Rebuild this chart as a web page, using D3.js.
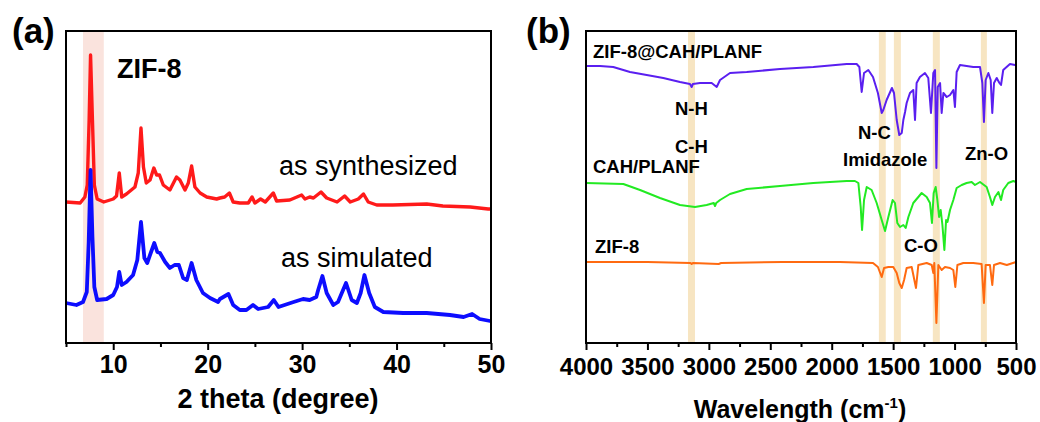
<!DOCTYPE html>
<html>
<head>
<meta charset="utf-8">
<script src="https://cdn.jsdelivr.net/npm/d3@7/dist/d3.min.js"></script>
<style>
  body { margin: 0; background: #fff; }
  svg text { font-family: "Liberation Sans", Arial, sans-serif; }
</style>
</head>
<body>
<script>
// ---- panel (a): XRD, [2theta, intensity a.u.] ----
var xrdSynth = [[5.0,141],[6.5,140],[7.0,146],[7.25,158],[7.45,223],[7.6,288],[7.8,223],[8.0,158],[8.3,144],[9.0,141],[10.0,144],[10.35,147],[10.64,170],[10.9,146],[11.4,149],[12.3,156],[12.65,170],[12.94,215],[13.2,176],[13.5,160],[13.9,163],[14.3,175],[14.6,168],[14.9,168],[15.3,158],[16.0,153],[16.7,166],[17.06,163],[17.6,153],[17.95,160],[18.3,177],[18.65,156],[19.2,150],[19.9,146],[20.95,144],[21.3,145],[21.8,146],[22.3,150],[22.7,141],[23.4,140],[24.3,140],[24.7,146],[25.0,140],[25.6,144],[26.1,141],[26.95,150],[27.3,142],[28.7,143],[29.95,148],[30.3,144],[30.8,146],[31.2,145],[32.0,151],[32.6,145],[33.7,141],[34.5,147],[35.1,141],[35.95,144],[36.5,149],[37.0,141],[37.9,138],[39.6,138],[43.2,139],[44.9,137],[47.8,136],[49.7,134],[50,134]];
var xrdSim = [[5.0,40],[6.1,38],[6.8,41],[7.2,51],[7.4,100],[7.6,173],[7.8,106],[8.0,56],[8.3,43],[9.3,44],[10.0,48],[10.4,56],[10.64,71],[10.9,58],[11.4,61],[12.1,68],[12.55,83],[12.94,121],[13.3,85],[13.6,80],[13.97,90],[14.35,100],[14.67,91],[14.95,90],[15.5,81],[16.0,75],[16.5,78],[16.95,78],[17.4,65],[17.8,63],[18.3,80],[18.8,63],[19.5,50],[20.25,45],[21.1,41],[21.3,44],[22.2,49],[22.7,38],[23.4,33],[24.1,33],[24.8,38],[25.35,34],[26.4,36],[27.0,43],[27.5,36],[29.1,41],[30.1,44],[30.8,43],[31.5,46],[31.7,53],[32.15,67],[32.6,50],[33.3,38],[33.8,41],[34.65,60],[35.25,43],[35.8,40],[36.2,50],[36.6,68],[37.1,50],[37.7,36],[38.6,31],[40.7,30],[43.2,30],[45.65,28],[47.1,26],[48.0,29],[48.8,24],[49.9,22],[50,22]];
var xrdBand = [6.8, 9.0];
var xrdTicks = [10, 20, 30, 40, 50];
var xrdMinor = [5, 15, 25, 35, 45];

// ---- panel (b): FTIR, [wavenumber, transmittance a.u.] ----
var irComposite = [[4000,277],[3886,277],[3778,276],[3642,271],[3506,268],[3371,265],[3235,261],[3154,259],[3140,256],[3130,259],[3072,260],[2977,260],[2936,256],[2909,263],[2828,270],[2692,271],[2421,274],[2150,276],[1878,279],[1797,279],[1775,276],[1756,251],[1737,270],[1702,273],[1664,266],[1624,250],[1593,230],[1580,233],[1553,243],[1510,255],[1493,250],[1471,223],[1450,208],[1430,210],[1417,223],[1403,231],[1390,240],[1363,250],[1336,253],[1322,223],[1309,260],[1282,266],[1241,270],[1214,265],[1192,230],[1173,270],[1159,273],[1148,175],[1137,256],[1118,260],[1105,230],[1091,250],[1064,246],[1037,248],[1010,253],[997,236],[983,271],[956,278],[902,277],[848,276],[793,276],[774,260],[761,221],[747,263],[725,270],[706,263],[693,230],[679,260],[657,265],[635,260],[622,258],[604,273],[549,279],[508,278],[500,278]];
var irFiber = [[4000,160],[3696,159],[3560,153],[3398,145],[3235,138],[3113,136],[3018,138],[2960,140],[2950,137],[2940,140],[2909,143],[2828,149],[2692,154],[2421,157],[2150,160],[1878,162],[1811,162],[1783,160],[1764,136],[1753,113],[1737,143],[1715,156],[1675,153],[1634,140],[1593,123],[1566,112],[1539,126],[1504,143],[1485,140],[1466,120],[1444,116],[1417,118],[1398,115],[1376,126],[1336,140],[1295,146],[1268,150],[1227,146],[1200,140],[1184,120],[1170,150],[1154,156],[1140,143],[1126,126],[1113,133],[1099,118],[1083,93],[1069,123],[1058,121],[1037,133],[1010,143],[983,155],[942,158],[902,160],[861,161],[834,158],[793,161],[739,156],[712,146],[693,138],[671,146],[643,151],[622,143],[604,153],[563,160],[522,162],[500,161]];
var irZif = [[4000,81],[3500,81],[3150,80],[3140,79],[3130,80],[2920,79],[2900,80],[2400,81],[1933,81],[1664,80],[1624,76],[1593,66],[1574,75],[1539,76],[1499,76],[1471,70],[1450,60],[1430,55],[1411,63],[1390,75],[1349,76],[1314,55],[1295,78],[1227,80],[1186,78],[1173,70],[1165,80],[1148,20],[1132,78],[1105,73],[1078,76],[1037,75],[1010,73],[994,56],[977,78],[929,80],[848,80],[780,79],[761,40],[747,78],[712,78],[693,58],[679,78],[630,80],[575,78],[500,81]];
var irBands = [[3170,3113],[1616,1560],[1494,1437],[1177,1120],[786,737]];
var irTicks = [4000, 3500, 3000, 2500, 2000, 1500, 1000, 500];
var irMinor = [3750, 3250, 2750, 2250, 1750, 1250, 750];

var width = 1040, height = 422;
var yTop = 31, yBottom = 343;

var svg = d3.select("body").append("svg")
    .attr("width", width)
    .attr("height", height);

var yScale = d3.scaleLinear().domain([0, 312]).range([yBottom, yTop]);

function drawAxes(g, x, major, minor, fs, pad) {
    var ax = g.append("g").attr("transform", "translate(0," + yBottom + ")")
        .call(d3.axisBottom(x).tickValues(major).tickSize(7).tickPadding(pad).tickFormat(d3.format("d")));
    ax.select(".domain").remove();
    ax.selectAll("line").attr("stroke", "#000").attr("stroke-width", 2);
    ax.selectAll("text").attr("font-size", fs).attr("font-weight", "bold")
        .attr("fill", "#000").attr("font-family", "Liberation Sans, Arial, sans-serif");
    var mi = g.append("g").attr("transform", "translate(0," + yBottom + ")")
        .call(d3.axisBottom(x).tickValues(minor).tickSize(4).tickFormat(""));
    mi.select(".domain").remove();
    mi.selectAll("line").attr("stroke", "#000").attr("stroke-width", 2);
}

// ---------- (a) ----------
var xA = d3.scaleLinear().domain([5, 50]).range([66, 491]);
var gA = svg.append("g");

gA.append("rect")
    .attr("x", xA(xrdBand[0])).attr("y", yTop)
    .attr("width", xA(xrdBand[1]) - xA(xrdBand[0])).attr("height", yBottom - yTop)
    .attr("fill", "#fae3dd");

var lineA = d3.line().x(function(d) { return xA(d[0]); }).y(function(d) { return yScale(d[1]); });

gA.append("path").datum(xrdSynth).attr("d", lineA)
    .attr("fill", "none").attr("stroke", "#ff1a1a").attr("stroke-width", 3.4).attr("stroke-linejoin", "round");
gA.append("path").datum(xrdSim).attr("d", lineA)
    .attr("fill", "none").attr("stroke", "#0000ff").attr("stroke-width", 3.8).attr("stroke-linejoin", "round")
    .attr("opacity", 0.95);

gA.append("rect").attr("x", 66).attr("y", yTop).attr("width", 491 - 66).attr("height", yBottom - yTop)
    .attr("fill", "none").attr("stroke", "#000").attr("stroke-width", 2);

drawAxes(gA, xA, xrdTicks, xrdMinor, 25, 5);

gA.append("text").attr("x", 278).attr("y", 408).attr("text-anchor", "middle")
    .attr("font-size", 27).attr("font-weight", "bold").text("2 theta (degree)");
gA.append("text").attr("x", 12).attr("y", 43).attr("font-size", 35).attr("font-weight", "bold").text("(a)");
gA.append("text").attr("x", 117).attr("y", 78).attr("font-size", 27).attr("font-weight", "bold").text("ZIF-8");
gA.append("text").attr("x", 279).attr("y", 175).attr("font-size", 27).text("as synthesized");
gA.append("text").attr("x", 281).attr("y", 267).attr("font-size", 27).text("as simulated");

// ---------- (b) ----------
var xB = d3.scaleLinear().domain([4000, 500]).range([586, 1016]);
var gB = svg.append("g");

gB.selectAll("rect.band").data(irBands).enter().append("rect")
    .attr("class", "band")
    .attr("x", function(d) { return xB(d[0]); }).attr("y", yTop)
    .attr("width", function(d) { return xB(d[1]) - xB(d[0]); }).attr("height", yBottom - yTop)
    .attr("fill", "#f7e5c2");

var lineB = d3.line().x(function(d) { return xB(d[0]); }).y(function(d) { return yScale(d[1]); });

gB.append("path").datum(irZif).attr("d", lineB)
    .attr("fill", "none").attr("stroke", "#ff6a10").attr("stroke-width", 2).attr("stroke-linejoin", "round");
gB.append("path").datum(irFiber).attr("d", lineB)
    .attr("fill", "none").attr("stroke", "#22ea22").attr("stroke-width", 2).attr("stroke-linejoin", "round");
gB.append("path").datum(irComposite).attr("d", lineB)
    .attr("fill", "none").attr("stroke", "#5a1ff0").attr("stroke-width", 2).attr("stroke-linejoin", "round");

gB.append("rect").attr("x", 586).attr("y", yTop).attr("width", 1016 - 586).attr("height", yBottom - yTop)
    .attr("fill", "none").attr("stroke", "#000").attr("stroke-width", 2);

drawAxes(gB, xB, irTicks, irMinor, 24, 8);

var title = gB.append("text").attr("x", 800).attr("y", 418).attr("text-anchor", "middle")
    .attr("font-size", 25).attr("font-weight", "bold");
title.append("tspan").text("Wavelength (cm");
title.append("tspan").attr("dy", -10).attr("font-size", 15).text("-1");
title.append("tspan").attr("dy", 10).text(")");

gB.append("text").attr("x", 526).attr("y", 43).attr("font-size", 35).attr("font-weight", "bold").text("(b)");

var labelsB = [
    ["ZIF-8@CAH/PLANF", 593, 58],
    ["N-H", 675, 115],
    ["C-H", 675, 153],
    ["CAH/PLANF", 593, 173],
    ["ZIF-8", 595, 253],
    ["N-C", 858, 139],
    ["Imidazole", 843, 166],
    ["Zn-O", 965, 160],
    ["C-O", 904, 252]
];
gB.selectAll("text.lbl").data(labelsB).enter().append("text")
    .attr("class", "lbl")
    .attr("x", function(d) { return d[1]; })
    .attr("y", function(d) { return d[2]; })
    .attr("font-size", 18.5).attr("font-weight", "bold")
    .text(function(d) { return d[0]; });
</script>
</body>
</html>
